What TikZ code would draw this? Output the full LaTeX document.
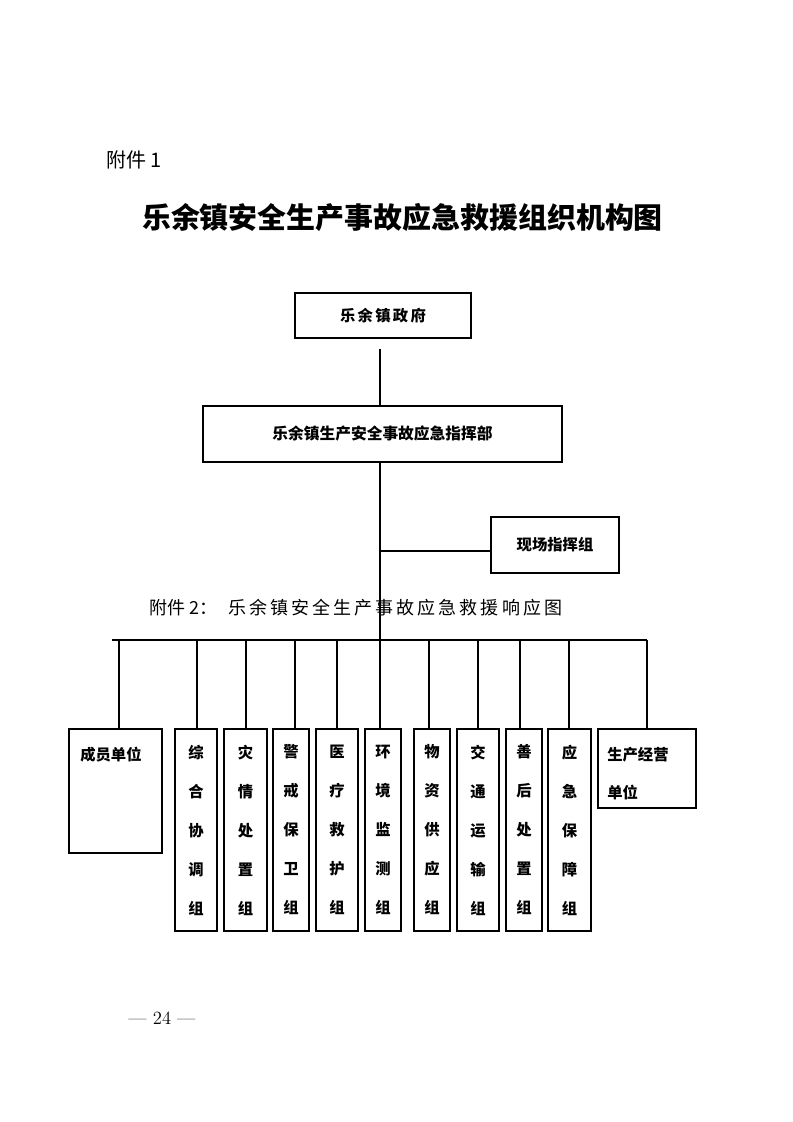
\documentclass[tikz,border=0pt]{standalone}
\usepackage{fontspec}
\newfontfamily\cjk{Noto Sans CJK SC}
\newfontfamily\cjksp[LetterSpace=15]{Noto Sans CJK SC}
\newfontfamily\cjkwide[LetterSpace=17]{Noto Sans CJK SC}
\newcommand\pxl{0.75pt}
\tikzstyle{orgbox}=[rectangle,draw,line width=1pt,inner sep=0pt,font=\cjk\bfseries\fontsize{11.5}{14}\selectfont]
\tikzstyle{colbox}=[orgbox,minimum height=202*\pxl,align=center,font=\cjk\bfseries\fontsize{11.5}{29.25}\selectfont]
\tikzstyle{boxtext}=[inner sep=0pt,font=\cjk\bfseries\fontsize{11.5}{14}\selectfont]
\tikzstyle{link}=[draw,line width=1pt]

\begin{document}
\begin{tikzpicture}[x=0.75pt,y=-0.75pt]
    \useasboundingbox (0,0) rectangle (793,1122);

    % headings
    \node[inner sep=0pt,font=\cjk\fontsize{15}{18}\selectfont,anchor=west] (att1) at (106,160) {附件 1};
    \node[inner sep=0pt,font=\cjk\bfseries\fontsize{21.7}{26}\selectfont] (title) at (402.5,218) {乐余镇安全生产事故应急救援组织机构图};

    % command levels
    \node[orgbox,minimum width=176*\pxl,minimum height=45*\pxl,font=\cjksp\bfseries\fontsize{11.5}{14}\selectfont] (gov) at (383,315.5) {乐余镇政府};
    \node[orgbox,minimum width=359*\pxl,minimum height=56*\pxl,font=\cjk\bfseries\fontsize{11.8}{14}\selectfont] (cmd) at (382.5,434) {乐余镇生产安全事故应急指挥部};
    \node[orgbox,minimum width=128*\pxl,minimum height=56*\pxl] (xc) at (555,545) {现场指挥组};

    \node[inner sep=0pt,font=\cjk\fontsize{13.5}{16}\selectfont,anchor=west] (att2) at (149,608) {附件 2：};
    \node[inner sep=0pt,font=\cjkwide\fontsize{13.5}{16}\selectfont,anchor=west] (att2b) at (228,608) {乐余镇安全生产事故应急救援响应图};

    % working groups
    \node[orgbox,minimum width=93*\pxl,minimum height=124*\pxl] (mem) at (115.5,791) {};
    \node[boxtext,anchor=west] (memtxt) at (80,755) {成员单位};
    \foreach \name/\cx/\w/\txt in {zh/196/42/{综\\合\\协\\调\\组}, zq/245.5/43/{灾\\情\\处\\置\\组},
        jj/291/36/{警\\戒\\保\\卫\\组}, yl/337/42/{医\\疗\\救\\护\\组}, hj/383/36/{环\\境\\监\\测\\组},
        wz/432/36/{物\\资\\供\\应\\组}, jt/478/42/{交\\通\\运\\输\\组}, sh/524/36/{善\\后\\处\\置\\组},
        bz/569.5/43/{应\\急\\保\\障\\组}}
        \node[colbox,minimum width=\w*\pxl] (\name) at (\cx,830) {\txt};
    \node[orgbox,minimum width=98*\pxl,minimum height=79*\pxl] (prod) at (647,768.5) {};
    \node[boxtext,anchor=west] (prodtxt) at (607,755) {生产经营};
    \node[boxtext,anchor=west] (prodtxt2) at (607,793) {单位};

    % connectors
    \coordinate (govgap) at (380,349);
    \coordinate (bus) at (380,640);
    \coordinate (busL) at (112,640);
    \coordinate (busR) at (647,640);
    \path[link] (govgap) -- (govgap |- cmd.north);
    \path[link] (bus |- cmd.south) -- (bus);
    \path[link] (bus |- 0,551) -- (xc.west |- 0,551);
    \path[link] (busL) -- (busR);
    \foreach \name/\x in {mem/119, zh/197, zq/246, jj/295, yl/337, hj/380, wz/429, jt/478, sh/520, bz/569, prod/647}
        \path[link] (\x,640) -- (\name.north -| \x,0);

    \node[inner sep=0pt,font=\fontsize{14}{16}\selectfont] (page) at (162,1018) {--- 24 ---};
\end{tikzpicture}
\end{document}
